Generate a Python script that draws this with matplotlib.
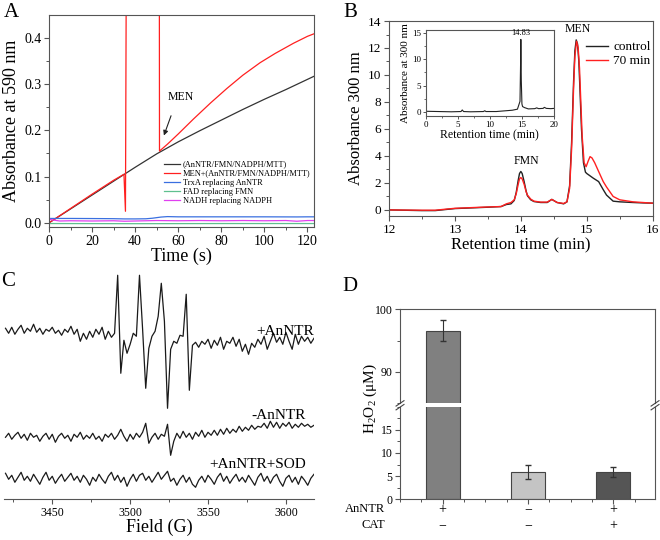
import numpy as np
import matplotlib.pyplot as plt
from matplotlib.ticker import MultipleLocator, FormatStrFormatter

plt.rcParams['font.family'] = ['Liberation Serif', 'DejaVu Serif']
plt.rcParams['mathtext.fontset'] = 'custom'
plt.rcParams['mathtext.rm'] = 'Liberation Serif'
plt.rcParams['axes.linewidth'] = 0.8
plt.rcParams['axes.edgecolor'] = '#555555'
plt.rcParams['xtick.direction'] = 'out'
plt.rcParams['ytick.direction'] = 'out'
plt.rcParams['xtick.color'] = '#555555'
plt.rcParams['ytick.color'] = '#555555'
plt.rcParams['xtick.labelcolor'] = 'black'
plt.rcParams['ytick.labelcolor'] = 'black'

# ---- Panel A: absorbance at 590 nm vs time ----
t_ctrl = [0, 10, 20, 30, 40, 50, 60, 70, 80, 90, 100, 110, 120, 125]
a_ctrl = [0.0, 0.030, 0.060, 0.090, 0.120, 0.149, 0.175, 0.199, 0.222, 0.245, 0.267, 0.288, 0.310, 0.321]
t_men = [0, 10, 20, 30, 34.8, 35.5, 36.0, 51.2, 51.3, 55, 60, 67, 75, 82.5, 90, 98, 105, 113.5, 120, 125]
a_men = [0.0, 0.031, 0.062, 0.092, 0.105, 0.025, 0.7, 0.7, 0.155, 0.170, 0.192, 0.224, 0.259, 0.290,
         0.319, 0.346, 0.366, 0.388, 0.403, 0.412]
t_trxa = [0, 10, 20, 30, 35, 40, 45, 48, 52, 55, 60, 80, 100, 115, 120, 125]
a_trxa = [0.0095, 0.0095, 0.0093, 0.009, 0.0085, 0.0085, 0.0088, 0.010, 0.0125, 0.0135, 0.013, 0.013,
          0.013, 0.0128, 0.013, 0.013]
t_fad = [0, 40, 80, 125]
a_fad = [-0.0015, -0.0018, -0.0015, -0.0015]
t_nadh = [0, 2, 5, 10, 20, 30, 35, 40, 50, 60, 70, 80, 90, 100, 110, 115, 120, 125]
a_nadh = [0.008, 0.006, 0.004, 0.0045, 0.004, 0.0045, 0.0035, 0.004, 0.005, 0.0045, 0.005, 0.0045,
          0.005, 0.0045, 0.005, 0.0035, 0.005, 0.005]

# ---- Panel B: HPLC chromatograms ----
rt_ctrl = [12.0, 12.5, 12.7, 13.0, 13.5, 13.7, 13.78, 13.85, 13.9, 13.93, 13.96, 13.98, 14.0, 14.02,
           14.05, 14.08, 14.1, 14.15, 14.2, 14.3, 14.4, 14.47, 14.55, 14.65, 14.7, 14.74, 14.77, 14.8,
           14.82, 14.84, 14.86, 14.88, 14.9, 14.92, 14.95, 14.98, 15.0, 15.1, 15.18, 15.25, 15.3, 15.4,
           15.5, 15.7, 15.85, 16.0]
ab_ctrl = [0.0, -0.05, -0.05, 0.1, 0.2, 0.25, 0.4, 0.45, 0.7, 1.3, 2.2, 2.7, 2.85, 2.7,
           2.1, 1.4, 1.05, 0.75, 0.62, 0.55, 0.55, 0.78, 0.55, 0.45, 0.6, 1.8, 5.0, 9.5,
           11.8, 12.6, 12.3, 11.0, 8.5, 6.0, 3.5, 2.8, 2.7, 2.35, 2.1, 1.5, 1.1, 0.65,
           0.6, 0.55, 0.52, 0.5]
rt_70 = [12.0, 12.5, 12.7, 13.0, 13.5, 13.7, 13.78, 13.85, 13.9, 13.93, 13.96, 13.98, 14.0, 14.02,
         14.05, 14.08, 14.1, 14.15, 14.2, 14.3, 14.4, 14.47, 14.55, 14.65, 14.7, 14.74, 14.77, 14.8,
         14.82, 14.845, 14.87, 14.89, 14.91, 14.93, 14.96, 14.99, 15.02, 15.05, 15.08, 15.12, 15.18,
         15.25, 15.3, 15.4, 15.5, 15.7, 15.85, 16.0]
ab_70 = [0.0, -0.02, -0.02, 0.12, 0.22, 0.25, 0.45, 0.55, 0.75, 1.2, 1.9, 2.3, 2.4, 2.3,
         1.9, 1.35, 1.1, 0.8, 0.65, 0.58, 0.58, 0.78, 0.55, 0.48, 0.6, 1.6, 4.5, 9.0,
         11.4, 12.5, 12.0, 10.5, 8.0, 5.5, 3.5, 3.2, 3.6, 3.95, 3.85, 3.5, 2.85,
         2.1, 1.7, 1.0, 0.75, 0.6, 0.55, 0.5]
rt_full = [0, 2, 4, 5.5, 5.7, 5.9, 7, 9, 9.2, 9.4, 11, 12.5, 13.5, 14.3, 14.7, 14.8, 14.83, 14.9,
           15.0, 15.1, 15.4, 16, 17, 17.3, 17.6, 18.3, 18.5, 18.8, 19.5, 20]
ab_full = [0.1, 0.05, 0.0, 0.05, 0.35, 0.05, 0.0, 0.05, 0.2, 0.05, 0.05, 0.2, 0.3, 0.5, 2.0, 10,
           13.8, 6, 1.5, 1.0, 0.8, 0.55, 0.6, 0.75, 0.6, 0.65, 0.85, 0.65, 0.6, 0.65]

# ---- Panel C: EPR spectra (2 G steps from 3420 G, stacked, arbitrary units) ----
epr_plus = [171, 166, 172, 165, 170, 174, 166, 171, 168, 175, 167, 171, 165, 170, 168, 172, 166, 169,
            164, 170, 167, 173, 165, 170, 158, 166, 160, 168, 162, 170, 165, 172, 160, 168, 162, 166,
            224, 126, 159, 146, 155, 166, 163, 224, 170, 111, 151, 163, 168, 183, 216, 178, 91, 150,
            158, 156, 164, 163, 205, 109, 154, 157, 152, 158, 155, 160, 151, 159, 154, 162, 150, 158,
            156, 162, 153, 160, 148, 155, 145, 156, 152, 160, 155, 163, 150, 158, 166, 157, 162, 155,
            167, 158, 150, 165, 155, 163, 158, 162, 156, 161]
epr_minus = [62, 66, 60, 64, 67, 61, 65, 59, 66, 62, 64, 58, 63, 66, 60, 65, 57, 63, 66, 61, 64, 58,
             65, 62, 67, 60, 64, 61, 66, 60, 63, 58, 65, 62, 66, 60, 64, 70, 63, 58, 65, 60, 66, 62,
             67, 76, 56, 62, 66, 60, 65, 63, 75, 44, 58, 66, 61, 68, 62, 66, 60, 67, 63, 69, 62, 67,
             64, 69, 64, 70, 65, 71, 66, 70, 67, 73, 68, 72, 69, 74, 70, 73, 72, 76, 71, 78, 72, 77,
             71, 76, 73, 77, 71, 75, 72, 76, 73, 75, 72, 74]
epr_sod = [26, 20, 24, 17, 22, 27, 19, 23, 18, 25, 20, 15, 22, 27, 19, 23, 16, 21, 25, 18, 22, 26,
           19, 23, 17, 24, 20, 14, 22, 18, 25, 20, 16, 23, 27, 19, 24, 17, 22, 13, 20, 25, 18, 24,
           26, 19, 23, 17, 22, 27, 20, 24, 28, 18, 21, 14, 20, 24, 17, 22, 15, 12, 19, 23, 17, 24,
           20, 15, 22, 26, 18, 23, 16, 21, 25, 18, 22, 17, 24, 19, 14, 22, 26, 18, 23, 16, 22, 25,
           18, 13, 21, 24, 17, 22, 15, 23, 19, 14, 21, 25]
epr_labels = ['+AnNTR', '-AnNTR', '+AnNTR+SOD']

# ---- Panel D: H2O2 production ----
h2o2 = [96.6, 5.8, 5.9]
h2o2_err = [1.7, 1.5, 1.0]
bar_colors = ['#808080', '#c4c4c4', '#555555']
anntr = ['+', '\u2212', '+']
cat = ['\u2212', '\u2212', '+']

fig = plt.figure(figsize=(6.6, 5.4), dpi=100)


def style_ticks(ax, size=10):
    ax.tick_params(which='major', length=3.5, width=0.8, labelsize=size, pad=2)
    ax.tick_params(which='minor', length=2, width=0.7)


# A
axA = fig.add_axes([0.0742, 0.5796, 0.4015, 0.3926])
axA.plot(t_ctrl, a_ctrl, color='#333333', lw=0.9, label='(AnNTR/FMN/NADPH/MTT)')
axA.plot(t_men, a_men, color='#ff2020', lw=0.9, label='MEN+(AnNTR/FMN/NADPH/MTT)')
axA.plot(t_trxa, a_trxa, color='#3a6fe0', lw=0.9, label='TrxA replacing AnNTR')
axA.plot(t_fad, a_fad, color='#5fc08f', lw=0.9, label='FAD replacing FMN')
axA.plot(t_nadh, a_nadh, color='#e040f0', lw=0.9, label='NADH replacing NADPH')
axA.set_xlim(0, 123)
axA.set_ylim(-0.009, 0.449)
axA.xaxis.set_major_locator(MultipleLocator(20))
axA.xaxis.set_minor_locator(MultipleLocator(10))
axA.yaxis.set_major_locator(MultipleLocator(0.1))
axA.yaxis.set_minor_locator(MultipleLocator(0.05))
axA.yaxis.set_major_formatter(FormatStrFormatter('%.1f'))
style_ticks(axA, 10)
axA.set_xlabel('Time (s)', fontsize=13, labelpad=0)
axA.set_ylabel('Absorbance at 590 nm', fontsize=13, labelpad=3)
axA.legend(loc='upper left', bbox_to_anchor=(0.434, 0.313), frameon=False, fontsize=6,
           handlelength=1.9, handletextpad=0.35, labelspacing=0.12, borderpad=0, borderaxespad=0)
axA.annotate('', xy=(52.9, 0.183), xytext=(57.1, 0.237),
             arrowprops=dict(arrowstyle='-|>', color='#222222', lw=0.8, mutation_scale=7))
axA.text(61.0, 0.2715, 'MEN', fontsize=8.5, ha='center', va='center')

# B
axB = fig.add_axes([0.5894, 0.6, 0.3995, 0.3611])
axB.plot(rt_ctrl, ab_ctrl, color='#222222', lw=1.0, label='control')
axB.plot(rt_70, ab_70, color='#ff2020', lw=1.0, label='70 min')
axB.set_xlim(12, 16)
axB.set_ylim(-0.45, 14)
axB.xaxis.set_major_locator(MultipleLocator(1))
axB.xaxis.set_minor_locator(MultipleLocator(0.5))
axB.yaxis.set_major_locator(MultipleLocator(2))
axB.yaxis.set_minor_locator(MultipleLocator(1))
style_ticks(axB, 9.5)
axB.set_xlabel('Retention time (min)', fontsize=12, labelpad=1)
axB.set_ylabel('Absorbance 300 nm', fontsize=12, labelpad=3)
axB.legend(loc='upper left', bbox_to_anchor=(0.747, 0.897), frameon=False, fontsize=9.5,
           handlelength=1.67, handletextpad=0.38, labelspacing=0.12, borderpad=0, borderaxespad=0)
axB.text(14.87, 13.4, 'MEN', fontsize=8.5, ha='center', va='center')
axB.text(14.08, 3.63, 'FMN', fontsize=8.5, ha='center', va='center')

axI = fig.add_axes([0.645, 0.7852, 0.1944, 0.1593])
axI.plot(rt_full, ab_full, color='#222222', lw=0.8)
axI.set_xlim(0, 20)
axI.set_ylim(-0.8, 15.6)
axI.xaxis.set_major_locator(MultipleLocator(5))
axI.xaxis.set_minor_locator(MultipleLocator(2.5))
axI.yaxis.set_major_locator(MultipleLocator(5))
axI.yaxis.set_minor_locator(MultipleLocator(2.5))
axI.tick_params(which='major', length=2.5, width=0.7, labelsize=6.5, pad=1)
axI.tick_params(which='minor', length=1.5, width=0.6)
axI.set_xlabel('Retention time (min)', fontsize=8.5, labelpad=0)
axI.set_ylabel('Absorbance at 300 nm', fontsize=8, labelpad=1)
axI.text(14.83, 14.2, '14.83', fontsize=6, ha='center', va='bottom')

# C
field = 3420 + 2 * np.arange(len(epr_plus))
axC = fig.add_axes([0.006, 0.0754, 0.4697, 0.4204])
for tr in (epr_plus, epr_minus, epr_sod):
    axC.plot(field, tr, color='#1a1a1a', lw=0.9)
axC.set_xlim(3419, 3618)
axC.set_ylim(0, 227)
for s in ('left', 'right', 'top'):
    axC.spines[s].set_visible(False)
axC.set_yticks([])
axC.xaxis.set_major_locator(MultipleLocator(50))
axC.xaxis.set_minor_locator(MultipleLocator(25))
style_ticks(axC, 8.5)
axC.set_xlabel('Field (G)', fontsize=13, labelpad=0)
axC.text(3618, 164, epr_labels[0], fontsize=11, ha='right', va='baseline')
axC.text(3613, 80, epr_labels[1], fontsize=11, ha='right', va='baseline')
axC.text(3613, 31, epr_labels[2], fontsize=11, ha='right', va='baseline')

# D (broken y axis)
xpos = np.arange(len(h2o2))
axDt = fig.add_axes([0.6061, 0.2531, 0.3864, 0.1741])
axDb = fig.add_axes([0.6061, 0.0754, 0.3864, 0.1715])
for ax in (axDt, axDb):
    ax.bar(xpos, h2o2, width=0.4, color=bar_colors, edgecolor='#444444', linewidth=0.8)
    ax.set_xlim(-0.5, 2.49)
    style_ticks(ax, 8.5)
axDt.errorbar(xpos, h2o2, yerr=h2o2_err, fmt='none', ecolor='#333333', elinewidth=0.8, capsize=2)
axDb.errorbar(xpos, h2o2, yerr=h2o2_err, fmt='none', ecolor='#333333', elinewidth=0.8, capsize=2)
axDt.set_ylim(85, 100)
axDt.yaxis.set_major_locator(MultipleLocator(10))
axDt.yaxis.set_minor_locator(MultipleLocator(5))
axDt.spines['bottom'].set_visible(False)
axDt.tick_params(axis='x', which='both', bottom=False, labelbottom=False)
axDb.set_ylim(0, 20)
axDb.set_yticks([0, 5, 10, 15])
axDb.yaxis.set_minor_locator(MultipleLocator(2.5))
axDb.spines['top'].set_visible(False)
axDb.set_xticks(xpos)
axDb.set_xticklabels([])
axDb.xaxis.set_minor_locator(MultipleLocator(0.25))
for i in range(len(xpos)):
    axDb.text(xpos[i], -0.108, anntr[i], transform=axDb.get_xaxis_transform(),
              ha='center', va='center', fontsize=10)
    axDb.text(xpos[i], -0.281, cat[i], transform=axDb.get_xaxis_transform(),
              ha='center', va='center', fontsize=10)
fig.text(385 / 660, 1 - 509.3 / 540, 'AnNTR', fontsize=9, ha='right', va='center')
fig.text(385 / 660, 1 - 525.3 / 540, 'CAT', fontsize=9, ha='right', va='center')
fig.text(370 / 660, 1 - 398 / 540, 'H$_\\mathregular{2}$O$_\\mathregular{2}$ (\u03bcM)', fontsize=11,
         rotation=90, ha='center', va='center')
# break marks
for xb in (0.0, 1.0):
    for dy in (-0.004, 0.003):
        fig.add_artist(plt.Line2D([0.6061 + xb * 0.3864 - 0.006, 0.6061 + xb * 0.3864 + 0.006],
                                  [1 - 405 / 540 + dy - 0.005, 1 - 405 / 540 + dy + 0.005],
                                  color='#444444', lw=0.8))

# panel letters
fig.text(4 / 660, 1 - 3 / 540, 'A', fontsize=15, ha='left', va='top')
fig.text(343 / 660, 1 - 3 / 540, 'B', fontsize=15, ha='left', va='top')
fig.text(1 / 660, 1 - 272 / 540, 'C', fontsize=15, ha='left', va='top')
fig.text(342 / 660, 1 - 277 / 540, 'D', fontsize=15, ha='left', va='top')

fig.savefig('out.png', dpi=100)
